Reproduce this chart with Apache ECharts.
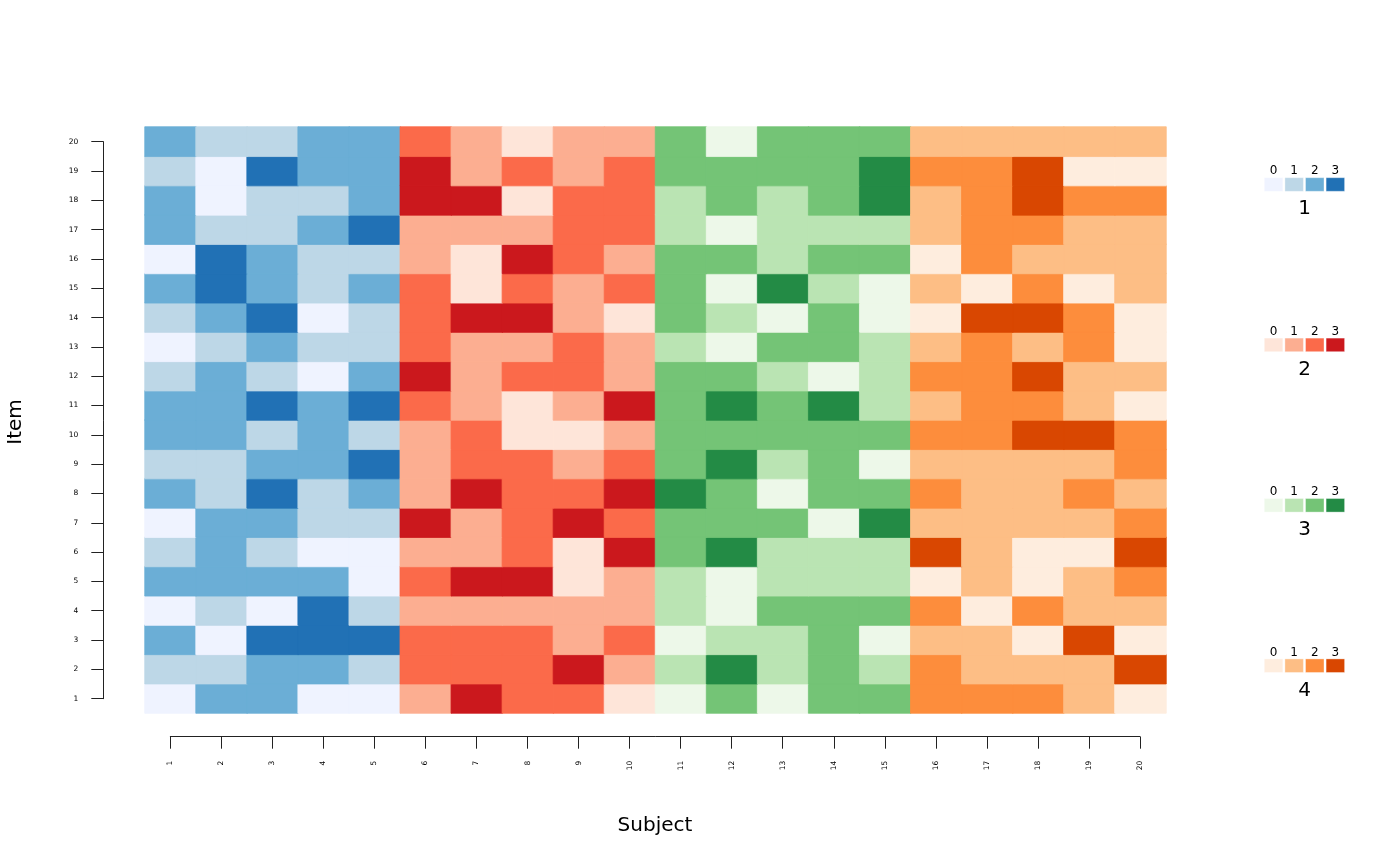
<!DOCTYPE html>
<html>
<head>
<meta charset="utf-8">
<script src="https://cdn.jsdelivr.net/npm/echarts@6/dist/echarts.min.js"></script>
<style>html,body{margin:0;padding:0;background:#fff;}#c{width:1400px;height:866px;}</style>
</head>
<body>
<div id="c"></div>
<script>
var subjects = ['1','2','3','4','5','6','7','8','9','10','11','12','13','14','15','16','17','18','19','20'];
var items = ['1','2','3','4','5','6','7','8','9','10','11','12','13','14','15','16','17','18','19','20'];
var groupNames = ['1','2','3','4'];
var groupOfSubject = [1,1,1,1,1,2,2,2,2,2,3,3,3,3,3,4,4,4,4,4];
var levelLabels = ['0','1','2','3'];
// values per item (row), item 1 first; columns are subjects 1..20
var item1  = [0,2,2,0,0, 1,3,2,2,0, 0,2,0,2,2, 2,2,2,1,0];
var item2  = [1,1,2,2,1, 2,2,2,3,1, 1,3,1,2,1, 2,1,1,1,3];
var item3  = [2,0,3,3,3, 2,2,2,1,2, 0,1,1,2,0, 1,1,0,3,0];
var item4  = [0,1,0,3,1, 1,1,1,1,1, 1,0,2,2,2, 2,0,2,1,1];
var item5  = [2,2,2,2,0, 2,3,3,0,1, 1,0,1,1,1, 0,1,0,1,2];
var item6  = [1,2,1,0,0, 1,1,2,0,3, 2,3,1,1,1, 3,1,0,0,3];
var item7  = [0,2,2,1,1, 3,1,2,3,2, 2,2,2,0,3, 1,1,1,1,2];
var item8  = [2,1,3,1,2, 1,3,2,2,3, 3,2,0,2,2, 2,1,1,2,1];
var item9  = [1,1,2,2,3, 1,2,2,1,2, 2,3,1,2,0, 1,1,1,1,2];
var item10 = [2,2,1,2,1, 1,2,0,0,1, 2,2,2,2,2, 2,2,3,3,2];
var item11 = [2,2,3,2,3, 2,1,0,1,3, 2,3,2,3,1, 1,2,2,1,0];
var item12 = [1,2,1,0,2, 3,1,2,2,1, 2,2,1,0,1, 2,2,3,1,1];
var item13 = [0,1,2,1,1, 2,1,1,2,1, 1,0,2,2,1, 1,2,1,2,0];
var item14 = [1,2,3,0,1, 2,3,3,1,0, 2,1,0,2,0, 0,3,3,2,0];
var item15 = [2,3,2,1,2, 2,0,2,1,2, 2,0,3,1,0, 1,0,2,0,1];
var item16 = [0,3,2,1,1, 1,0,3,2,1, 2,2,1,2,2, 0,2,1,1,1];
var item17 = [2,1,1,2,3, 1,1,1,2,2, 1,0,1,1,1, 1,2,2,1,1];
var item18 = [2,0,1,1,2, 3,3,0,2,2, 1,2,1,2,3, 1,2,3,2,2];
var item19 = [1,0,3,2,2, 3,1,2,1,2, 2,2,2,2,3, 2,2,3,0,0];
var item20 = [2,1,1,2,2, 2,1,0,1,1, 2,0,2,2,2, 1,1,1,1,1];
var rows = [item1,item2,item3,item4,item5,item6,item7,item8,item9,item10,item11,item12,item13,item14,item15,item16,item17,item18,item19,item20];

var palettes = [
  ['#eff3ff','#bdd7e7','#6baed6','#2171b5'],
  ['#fee5d9','#fcae91','#fb6a4a','#cb181d'],
  ['#edf8e9','#bae4b3','#74c476','#238b45'],
  ['#feedde','#fdbe85','#fd8d3c','#d94701']
];

var FONT = '"DejaVu Sans", "Liberation Sans", sans-serif';

var series = [];
var visualMaps = [];
groupNames.forEach(function (g, gi) {
  var data = [];
  for (var r = 0; r < rows.length; r++) {
    for (var s = 0; s < subjects.length; s++) {
      if (groupOfSubject[s] === gi + 1) {
        var v = rows[r][s];
        data.push({ value: [s, r, v], itemStyle: { borderColor: palettes[gi][v], borderWidth: 0.8 } });
      }
    }
  }
  series.push({
    type: 'heatmap', name: g, xAxisIndex: 0, yAxisIndex: 0,
    data: data, emphasis: { disabled: true }, progressive: 0
  });
  visualMaps.push({
    type: 'piecewise', show: false, seriesIndex: gi, dimension: 2,
    pieces: levelLabels.map(function (l, li) { return { value: li, color: palettes[gi][li] }; })
  });
});

// legend graphics
var graphics = [];
var swW = 18.5, swH = 13.6, pitch = 20.6, legX = 1264.3, legY0 = 177.7, legStep = 160.4;
groupNames.forEach(function (g, gi) {
  var y = legY0 + gi * legStep;
  levelLabels.forEach(function (l, li) {
    graphics.push({ type: 'rect', shape: { x: legX + li * pitch, y: y, width: swW, height: swH },
      style: { fill: palettes[gi][li], stroke: 'rgba(255,255,255,0.6)', lineWidth: 0.6 } });
    graphics.push({ type: 'text', x: legX + li * pitch + swW / 2, y: y - 6.5,
      style: { text: l, font: '12px ' + FONT, fill: '#000', align: 'center', verticalAlign: 'middle' } });
  });
  graphics.push({ type: 'text', x: legX + 2 * pitch - 1, y: y + 31.5,
    style: { text: g, font: '20px ' + FONT, fill: '#000', align: 'center', verticalAlign: 'middle' } });
});
graphics.push({ type: 'text', x: 655, y: 826,
  style: { text: 'Subject', font: '20px ' + FONT, fill: '#000', align: 'center', verticalAlign: 'middle' } });
graphics.push({ type: 'text', x: 16, y: 422, rotation: Math.PI / 2,
  style: { text: 'Item', font: '20px ' + FONT, fill: '#000', align: 'center', verticalAlign: 'middle' } });

var chart = echarts.init(document.getElementById('c'), null, { renderer: 'canvas' });
chart.setOption({
  backgroundColor: '#ffffff',
  animation: false,
  grid: [
    { left: 145, right: 234, top: 127, bottom: 153 },
    { left: 170.3, right: 260, top: 141.65, bottom: 167.3 }
  ],
  xAxis: [
    { type: 'category', gridIndex: 0, data: subjects, show: false },
    { type: 'value', gridIndex: 1, min: 1, max: 20, interval: 1, position: 'bottom', offset: 38,
      axisLine: { show: true, lineStyle: { color: '#222', width: 1 } },
      axisTick: { show: true, length: 12, lineStyle: { color: '#222', width: 1 } },
      splitLine: { show: false },
      axisLabel: { rotate: 90, fontSize: 7.5, color: '#000', margin: 24, fontFamily: FONT,
        formatter: function (v) { return subjects[v - 1] || ''; } } }
  ],
  yAxis: [
    { type: 'category', gridIndex: 0, data: items, show: false },
    { type: 'value', gridIndex: 1, min: 1, max: 20, interval: 1, position: 'left', offset: 67,
      axisLine: { show: true, lineStyle: { color: '#222', width: 1 } },
      axisTick: { show: true, length: 12, lineStyle: { color: '#222', width: 1 } },
      splitLine: { show: false },
      axisLabel: { fontSize: 7.5, color: '#000', margin: 25, fontFamily: FONT,
        formatter: function (v) { return items[v - 1] || ''; } } }
  ],
  visualMap: visualMaps,
  series: series,
  graphic: graphics
});
</script>
</body>
</html>
